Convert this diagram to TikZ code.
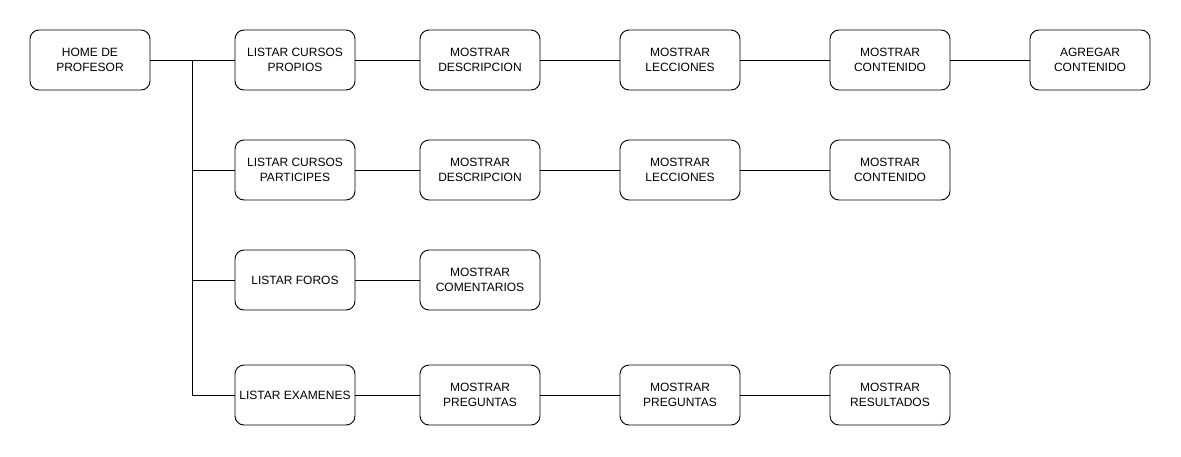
\documentclass[tikz,border=0pt]{standalone}
\usepackage{fontspec}
\setmainfont{Liberation Sans}
\begin{document}
\begin{tikzpicture}[x=1pt,y=-1pt,
  box/.style={draw=black, line width=0.9pt, rounded corners=9pt, minimum width=120pt, minimum height=60pt, inner sep=0pt, align=center, font=\fontsize{12}{14.5}\selectfont},
  link/.style={draw=black, line width=0.9pt}]
\useasboundingbox (0,0) rectangle (1181,456);
\node[box] (home) at (90,60) {HOME DE\\PROFESOR};
\node[box] (l1) at (295,60) {LISTAR CURSOS\\PROPIOS};
\node[box] (l2) at (295,170) {LISTAR CURSOS\\PARTICIPES};
\node[box] (l3) at (295,280) {LISTAR FOROS};
\node[box] (l4) at (295,395) {LISTAR EXAMENES};
\node[box] (a1) at (480,60) {MOSTRAR\\DESCRIPCION};
\node[box] (a2) at (680,60) {MOSTRAR\\LECCIONES};
\node[box] (a3) at (890,60) {MOSTRAR\\CONTENIDO};
\node[box] (a4) at (1090,60) {AGREGAR\\CONTENIDO};
\node[box] (b1) at (480,170) {MOSTRAR\\DESCRIPCION};
\node[box] (b2) at (680,170) {MOSTRAR\\LECCIONES};
\node[box] (b3) at (890,170) {MOSTRAR\\CONTENIDO};
\node[box] (c1) at (480,280) {MOSTRAR\\COMENTARIOS};
\node[box] (d1) at (480,395) {MOSTRAR\\PREGUNTAS};
\node[box] (d2) at (680,395) {MOSTRAR\\PREGUNTAS};
\node[box] (d3) at (890,395) {MOSTRAR\\RESULTADOS};
\coordinate (t0) at (192,60);
\draw[link] (home) -- (l1);
\draw[link] (t0) |- (l2.west);
\draw[link] (t0) |- (l3.west);
\draw[link] (t0) |- (l4.west);
\draw[link] (l1) -- (a1);
\draw[link] (a1) -- (a2);
\draw[link] (a2) -- (a3);
\draw[link] (a3) -- (a4);
\draw[link] (l2) -- (b1);
\draw[link] (b1) -- (b2);
\draw[link] (b2) -- (b3);
\draw[link] (l3) -- (c1);
\draw[link] (l4) -- (d1);
\draw[link] (d1) -- (d2);
\draw[link] (d2) -- (d3);
\end{tikzpicture}
\end{document}
